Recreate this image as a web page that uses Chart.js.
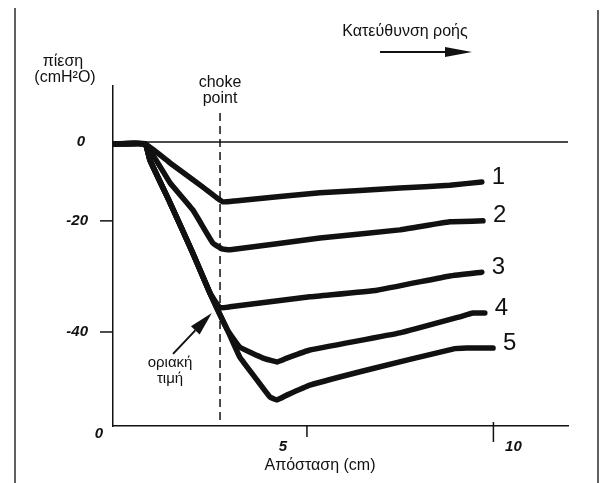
<!DOCTYPE html>
<html>
<head>
<meta charset="utf-8">
<script src="https://cdn.jsdelivr.net/npm/chart.js@4/dist/chart.umd.min.js"></script>
<style>
  html, body { margin: 0; padding: 0; background: #fff; }
  canvas { display: block; }
</style>
</head>
<body>
<canvas id="chart" width="601" height="483"></canvas>
<script>
// Pressure along the airway (cmH2O) against distance (cm), five flow states.
const curveNames = ['1', '2', '3', '4', '5'];

const curve1 = [[-0.2, -0.4], [0.66, -0.4], [1.33, -4.4], [2.21, -9.5], [2.59, -11.8], [2.75, -12.6],
                [3.07, -12.4], [5.35, -10.7], [7.49, -9.7], [8.83, -9.1], [9.69, -8.4]];
const curve2 = [[-0.2, -0.4], [0.66, -0.4], [1.33, -8.6], [1.94, -14.3], [2.48, -21.3], [2.72, -22.5],
                [2.94, -22.7], [5.35, -20.2], [7.49, -18.5], [8.83, -16.8], [9.72, -16.6]];
const curve3 = [[-0.2, -0.4], [0.66, -0.4], [0.79, -3.8], [1.33, -12.8], [1.94, -23.4], [2.40, -31.8],
                [2.67, -34.9], [2.94, -34.7], [5.08, -32.6], [6.88, -31.2], [8.83, -28.2], [9.69, -27.4]];
const curve4 = [[-0.2, -0.4], [0.66, -0.4], [0.79, -3.8], [1.33, -12.8], [1.94, -23.4], [2.40, -31.8],
                [2.61, -35.4], [2.87, -39.6], [3.20, -43.2], [3.82, -45.5], [4.20, -46.3], [4.46, -45.5],
                [5.08, -43.8], [7.49, -40.2], [9.10, -36.8], [9.45, -36.0], [9.77, -36.0]];
const curve5 = [[-0.2, -0.4], [0.66, -0.4], [0.79, -3.8], [1.33, -12.8], [1.94, -23.4], [2.40, -31.8],
                [2.61, -35.4], [2.87, -39.6], [3.20, -45.3], [3.66, -50.1], [4.01, -53.7], [4.20, -54.3],
                [4.46, -53.3], [5.08, -51.2], [6.61, -48.0], [8.91, -43.6], [9.29, -43.4], [9.99, -43.4]];

// Axis ticks: value positions on the scale and the text written beside them.
const yTickValues = [0, -16.6, -40];
const yTickLabels = ['0', '-20', '-40'];
const xTickValues = [5, 10];
const xTickLabels = ['5', '10'];

// Choke point location and the critical-value marker it points to.
const chokePointX = 2.67;
const chokeLineTop = 6.1;
const criticalPoint = [2.45, -36.0];
const criticalTail = [1.41, -44.6];

const xMin = -0.2, xMax = 12.0;
const yMin = -59.8, yMax = 11.8;

const INK = '#111111';
const toPts = arr => arr.map(p => ({ x: p[0], y: p[1] }));
const curves = [curve1, curve2, curve3, curve4, curve5];

const curveSets = curves.map((c, i) => ({
  label: curveNames[i],
  data: toPts(c),
  borderColor: INK,
  borderWidth: 5.5,
  borderJoinStyle: 'round',
  borderCapStyle: 'round',
  tension: 0.1,
  pointRadius: 0,
  fill: false
}));

const refSets = [
  {
    label: 'zero',
    data: toPts([[xMin, 0], [xMax, 0]]),
    borderColor: INK, borderWidth: 1.5, pointRadius: 0, fill: false
  },
  {
    label: 'choke',
    data: toPts([[chokePointX, chokeLineTop], [chokePointX, yMin]]),
    borderColor: INK, borderWidth: 1.5, borderDash: [8, 5], pointRadius: 0, fill: false
  }
];

const overlay = {
  id: 'overlay',
  afterDraw(chart) {
    const { ctx, scales: { x, y } } = chart;
    ctx.save();
    ctx.fillStyle = INK;

    // page frame edges
    ctx.strokeStyle = '#3a3a3a';
    ctx.lineWidth = 1.6;
    ctx.beginPath();
    ctx.moveTo(15, 8); ctx.lineTo(15, 483);
    ctx.moveTo(598, 10); ctx.lineTo(598, 483);
    ctx.stroke();
    ctx.strokeStyle = INK;

    // y ticks and labels
    ctx.font = 'italic bold 15px "Liberation Sans", Arial, sans-serif';
    ctx.textAlign = 'right';
    ctx.textBaseline = 'middle';
    ctx.lineWidth = 1.5;
    yTickValues.forEach((v, i) => {
      const py = y.getPixelForValue(v);
      if (v !== 0) {
        ctx.beginPath();
        ctx.moveTo(x.left - 13, py); ctx.lineTo(x.left, py);
        ctx.stroke();
      }
      ctx.fillText(yTickLabels[i], x.left - (v === 0 ? 28 : 25), py);
    });
    // origin label
    ctx.textAlign = 'center';
    ctx.fillText('0', x.left - 14, y.bottom + 8);

    // x ticks and labels
    const xLabelShift = [-24, 20];
    xTickValues.forEach((v, i) => {
      const px = x.getPixelForValue(v);
      ctx.beginPath();
      ctx.moveTo(px, y.bottom - (i === 1 ? 4 : 0));
      ctx.lineTo(px, y.bottom + (i === 1 ? 16 : 11));
      ctx.stroke();
      ctx.fillText(xTickLabels[i], px + xLabelShift[i], y.bottom + 21);
    });

    // axis titles
    ctx.font = '16px "Liberation Sans", Arial, sans-serif';
    ctx.textAlign = 'center';
    ctx.fillText('πίεση', 63, 62);
    ctx.fillText('(cmH²O)', 65, 78);
    ctx.fillText('Απόσταση (cm)', 320, 466);

    // flow direction
    ctx.fillText('Κατεύθυνση ροής', 405, 32);
    ctx.lineWidth = 2;
    ctx.beginPath();
    ctx.moveTo(380, 52); ctx.lineTo(450, 52);
    ctx.stroke();
    ctx.beginPath();
    ctx.moveTo(445, 47); ctx.lineTo(472, 52); ctx.lineTo(445, 57);
    ctx.closePath(); ctx.fill();

    // choke point caption
    const cx = x.getPixelForValue(chokePointX);
    ctx.fillText('choke', cx, 83);
    ctx.fillText('point', cx, 99);

    // critical value marker
    const tx = x.getPixelForValue(criticalPoint[0]);
    const ty = y.getPixelForValue(criticalPoint[1]);
    const sx = x.getPixelForValue(criticalTail[0]);
    const sy = y.getPixelForValue(criticalTail[1]);
    const ang = Math.atan2(ty - sy, tx - sx);
    const headLen = 24, headW = 6;
    const bx = tx - headLen * Math.cos(ang), by = ty - headLen * Math.sin(ang);
    ctx.lineWidth = 2;
    ctx.beginPath();
    ctx.moveTo(sx, sy); ctx.lineTo(bx, by);
    ctx.stroke();
    ctx.beginPath();
    ctx.moveTo(tx, ty);
    ctx.lineTo(bx + headW * Math.sin(ang), by - headW * Math.cos(ang));
    ctx.lineTo(bx - headW * Math.sin(ang), by + headW * Math.cos(ang));
    ctx.closePath(); ctx.fill();
    ctx.font = '15px "Liberation Sans", Arial, sans-serif';
    ctx.fillText('οριακή', sx - 3, sy + 9);
    ctx.fillText('τιμή', sx - 3, sy + 25);

    // curve numbers at line ends
    ctx.font = '24px "Liberation Sans", Arial, sans-serif';
    ctx.textAlign = 'left';
    curves.forEach((c, i) => {
      const last = c[c.length - 1];
      ctx.fillText(curveNames[i], x.getPixelForValue(last[0]) + 10, y.getPixelForValue(last[1]) - 5);
    });

    ctx.restore();
  }
};

new Chart(document.getElementById('chart'), {
  type: 'line',
  data: { datasets: curveSets.concat(refSets) },
  options: {
    responsive: false,
    animation: false,
    events: [],
    layout: { padding: { left: 113, right: 33, top: 86, bottom: 57 } },
    plugins: { legend: { display: false }, tooltip: { enabled: false } },
    scales: {
      x: {
        type: 'linear', min: xMin, max: xMax,
        ticks: { display: false },
        grid: { display: false, drawTicks: false },
        border: { display: true, color: INK, width: 1.5 },
        afterFit: s => { s.height = 0; }
      },
      y: {
        type: 'linear', min: yMin, max: yMax,
        ticks: { display: false },
        grid: { display: false, drawTicks: false },
        border: { display: true, color: INK, width: 1.5 },
        afterFit: s => { s.width = 0; }
      }
    }
  },
  plugins: [overlay]
});
</script>
</body>
</html>
